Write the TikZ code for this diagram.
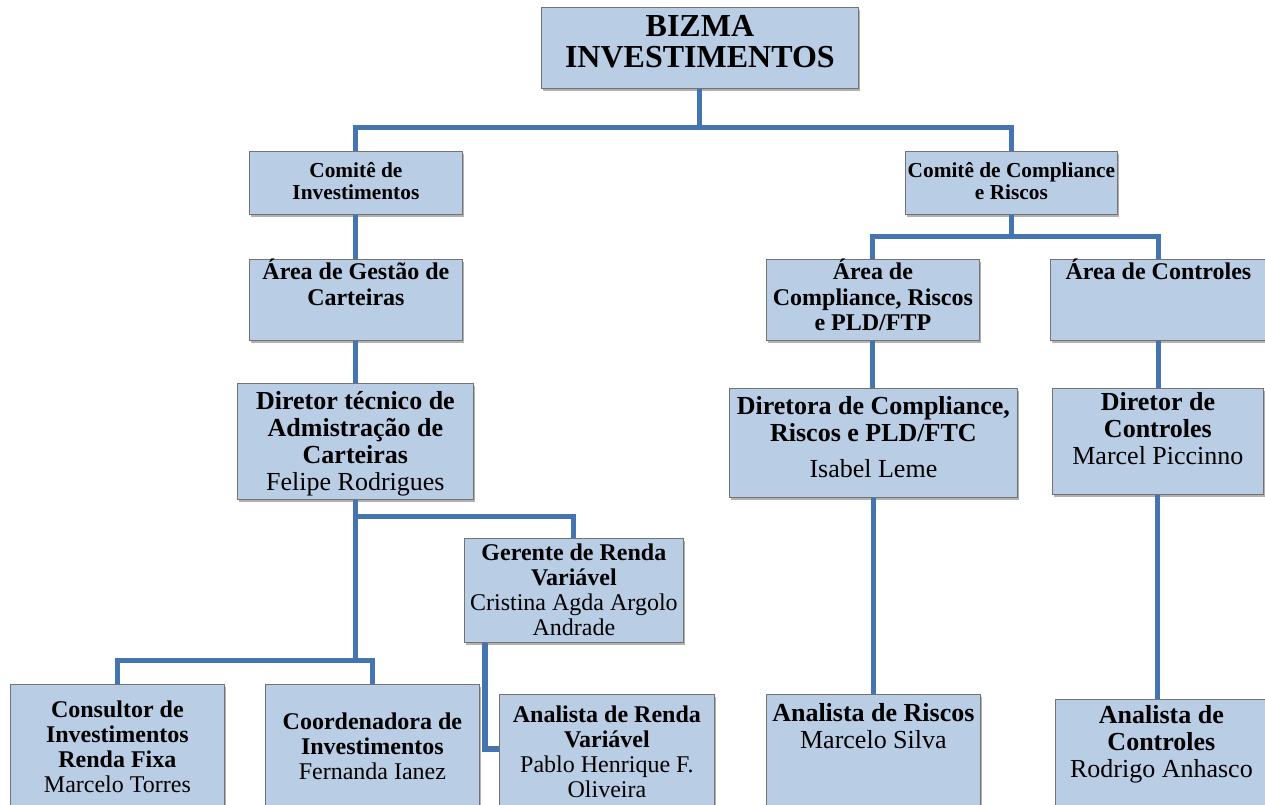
\documentclass[tikz,border=0pt]{standalone}
\usepackage{fontspec}
\setmainfont{Liberation Serif}
\usepackage{tikz}
\usetikzlibrary{shadows}
\definecolor{boxblue}{HTML}{B9CDE5}
\definecolor{linkblue}{HTML}{4575B0}
\newlength{\unitpx}
\setlength{\unitpx}{0.75pt}
\newcommand{\boxtxt}[4]{\parbox[c][#2\unitpx][t]{#1\unitpx}{\centering\vspace*{#3\unitpx}#4}}

\begin{document}
\begin{tikzpicture}[x=0.75pt, y=-0.75pt,
        box/.style={rectangle, draw=gray!90!black, line width=0.6pt, fill=boxblue, inner sep=0pt, anchor=north west,
            drop shadow={shadow xshift=1.5pt, shadow yshift=-2pt, opacity=0.5, fill=black!60}},
        fbig/.style={font=\fontsize{24pt}{23.25pt}\selectfont\bfseries},
        fcom/.style={font=\fontsize{16pt}{16.5pt}\selectfont\bfseries},
        farea/.style={font=\fontsize{18pt}{19pt}\selectfont\bfseries},
        fdir/.style={font=\fontsize{19.5pt}{20.25pt}\selectfont\bfseries},
        fmid/.style={font=\fontsize{18pt}{18.75pt}\selectfont\bfseries},
        link/.style={draw=linkblue, line width=3.8pt}]
    \clip (0,0) rectangle (1265,805);

    % top and committees
    \node[box, fbig] (bizma) at (541,7) {\boxtxt{317}{81}{7.5}{BIZMA\\INVESTIMENTOS}};
    \node[box, fcom] (cominv) at (249,151) {\boxtxt{213}{63}{11}{Comitê de\\Investimentos}};
    \node[box, fcom] (comcomp) at (905,151) {\boxtxt{212}{63}{11}{Comitê de Compliance\\e Riscos}};

    % areas
    \node[box, farea] (areagest) at (249,259) {\boxtxt{213}{81}{0}{Área de Gestão de\\Carteiras}};
    \node[box, farea] (areacomp) at (766,259) {\boxtxt{213}{81}{0}{Área de\\Compliance, Riscos\\e PLD/FTP}};
    \node[box, farea] (areactrl) at (1050,259) {\boxtxt{216}{81}{0}{Área de Controles}};

    % directors
    \node[box, fdir] (dirtec) at (237,383) {\boxtxt{236}{116}{8}{Diretor técnico de\\Admistração de\\Carteiras\\{\mdseries Felipe Rodrigues}}};
    \node[box, fdir] (dircomp) at (729,388) {\boxtxt{288}{109}{8}{Diretora de Compliance,\\Riscos e PLD/FTC\\[9\unitpx]{\mdseries Isabel Leme}}};
    \node[box, fdir] (dirctrl) at (1052,388) {\boxtxt{211}{106}{4}{Diretor de\\Controles\\{\mdseries Marcel Piccinno}}};

    % staff
    \node[box, fmid] (gerrv) at (464,538) {\boxtxt{219}{104}{5}{Gerente de Renda\\Variável\\{\mdseries Cristina Agda Argolo\\Andrade}}};
    \node[box, fmid] (consrf) at (10,684) {\boxtxt{214}{130}{16}{Consultor de\\Investimentos\\Renda Fixa\\{\mdseries Marcelo Torres}}};
    \node[box, fmid] (coordinv) at (265,684) {\boxtxt{214}{130}{28}{Coordenadora de\\Investimentos\\{\mdseries Fernanda Ianez}}};
    \node[box, fmid] (analrv) at (499,694) {\boxtxt{215}{120}{11}{Analista de Renda\\Variável\\{\mdseries Pablo Henrique F.\\Oliveira}}};
    \node[box, fdir] (analrisc) at (766,694) {\boxtxt{214}{120}{9}{Analista de Riscos\\{\mdseries Marcelo Silva}}};
    \node[box, fdir] (analctrl) at (1055,699) {\boxtxt{212}{115}{6}{Analista de\\Controles\\{\mdseries Rodrigo Anhasco}}};

    % connectors
    \draw[link] (bizma.south) -- ++(0,39) -| (cominv.north);
    \draw[link] (bizma.south) -- ++(0,39) -| (comcomp.north);
    \draw[link] (cominv.south) -- (cominv.south |- areagest.north);
    \draw[link] (comcomp.south) -- ++(0,22) -| (areacomp.north);
    \draw[link] (comcomp.south) -- ++(0,22) -| (areactrl.north);
    \draw[link] (areagest.south) -- (areagest.south |- dirtec.north);
    \draw[link] (areacomp.south) -- (areacomp.south |- dircomp.north);
    \draw[link] (areactrl.south) -- (areactrl.south |- dirctrl.north);
    \draw[link] (dirtec.south) -- ++(0,17) -| (gerrv.north);
    \draw[link] (dirtec.south) -- ++(0,161) -| (consrf.north);
    \draw[link] (dirtec.south) -- ++(0,161) -| (coordinv.north);
    \draw[link] ([xshift=21\unitpx]gerrv.south west) |- ([yshift=-55\unitpx]analrv.north west);
    \draw[link] (dircomp.south) -- (dircomp.south |- analrisc.north);
    \draw[link] (dirctrl.south) -- (dirctrl.south |- analctrl.north);
\end{tikzpicture}
\end{document}
